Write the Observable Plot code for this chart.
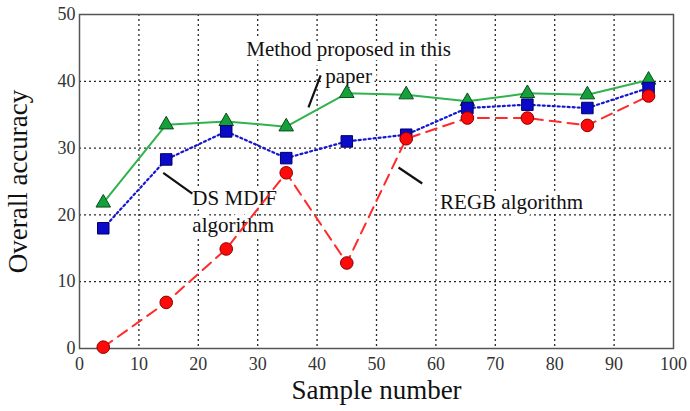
<!DOCTYPE html>
<html>
<head>
<meta charset="utf-8">
<script src="https://cdn.jsdelivr.net/npm/d3@7"></script>
<script src="https://cdn.jsdelivr.net/npm/@observablehq/plot@0.6"></script>
</head>
<body style="margin:0;background:#fff">
<div id="chart"></div>
<script>
// Sample numbers (x) for each point
const samples = [4, 14.6, 24.7, 34.8, 45, 55, 65.3, 75.4, 85.5, 95.8];
// Series values (overall accuracy)
const proposed = [21.8, 33.5, 34.0, 33.2, 38.2, 38.0, 37.0, 38.2, 38.0, 40.2];
const dsmdif   = [18.0, 28.3, 32.5, 28.5, 31.0, 32.0, 36.0, 36.5, 36.0, 39.0];
const regb     = [0.2, 6.9, 14.9, 26.3, 12.8, 31.4, 34.5, 34.5, 33.4, 37.8];
// Tick values
const xTicks = [0, 10, 20, 30, 40, 50, 60, 70, 80, 90, 100];
const yTicks = [0, 10, 20, 30, 40, 50];
// Annotations (data coordinates)
const centerLabels = [
  {text: "Method proposed in this\npaper", x: 45.3, y: 43.1}
];
const leftLabels = [
  {text: "DS MDIF\nalgorithm", x: 19.0, y: 20.8},
  {text: "REGB algorithm", x: 60.7, y: 22.2}
];
const pointers = [
  {x1: 38.55, y1: 36.1, x2: 40.6, y2: 40.9},
  {x1: 14.1, y1: 26.3, x2: 19.0, y2: 23.2},
  {x1: 53.7, y1: 27.1, x2: 57.7, y2: 24.7}
];

const mk = (vals) => samples.map((s, i) => ({x: s, y: vals[i]}));
const gP = mk(proposed), gD = mk(dsmdif), gR = mk(regb);

const serif = "Liberation Serif";
const textOpts = {x: "x", y: "y", text: "text", lineHeight: 1.3, fontSize: 21, fontFamily: serif, fill: "#111", stroke: "white", strokeWidth: 9};

const chart = Plot.plot({
  width: 690,
  height: 411,
  marginLeft: 79,
  marginRight: 17,
  marginTop: 14,
  marginBottom: 63,
  x: {domain: [0, 100]},
  y: {domain: [0, 50]},
  marks: [
    Plot.ruleX(xTicks.filter(d => d > 0 && d < 100), {stroke: "#111", strokeWidth: 1.3, strokeDasharray: "2,3", strokeOpacity: 0.9}),
    Plot.ruleY(yTicks.filter(d => d > 0 && d < 50), {stroke: "#111", strokeWidth: 1.3, strokeDasharray: "2,3", strokeOpacity: 0.9}),
    Plot.frame({stroke: "#555", strokeWidth: 1.5}),
    Plot.axisX({ticks: xTicks, tickSize: 0, tickPadding: 9, fontSize: 18, fontFamily: serif, fill: "#333", label: null}),
    Plot.axisX({ticks: [], label: "Sample number", labelAnchor: "center", labelOffset: 50, labelArrow: "none", fontSize: 27, fontFamily: serif, fill: "#111"}),
    Plot.axisY({ticks: yTicks, tickSize: 0, tickPadding: 4, fontSize: 18, fontFamily: serif, fill: "#333", label: null}),
    Plot.axisY({ticks: [], label: "Overall accuracy", labelAnchor: "center", labelOffset: 72, labelArrow: "none", fontSize: 27, fontFamily: serif, fill: "#111"}),
    Plot.text(centerLabels, {...textOpts, textAnchor: "middle"}),
    Plot.text(leftLabels, {...textOpts, textAnchor: "start"}),
    Plot.link(pointers, {x1: "x1", y1: "y1", x2: "x2", y2: "y2", stroke: "#111", strokeWidth: 2.2}),
    Plot.line(gP, {x: "x", y: "y", stroke: "#2fb34e", strokeWidth: 2}),
    Plot.dot(gP, {x: "x", y: "y", symbol: "triangle", r: 5.4, fill: "#14a03a", stroke: "#0b4d1c", strokeWidth: 1}),
    Plot.line(gD, {x: "x", y: "y", stroke: "#1515d6", strokeWidth: 2.2, strokeDasharray: "2,3"}),
    Plot.dot(gD, {x: "x", y: "y", symbol: "square", r: 6.5, fill: "#0a0ac8", stroke: "#00006a", strokeWidth: 1}),
    Plot.line(gR, {x: "x", y: "y", stroke: "#ff2a2a", strokeWidth: 2, strokeDasharray: "11,7"}),
    Plot.dot(gR, {x: "x", y: "y", symbol: "circle", r: 6.3, fill: "#ff0a0a", stroke: "#8a0000", strokeWidth: 1})
  ]
});
document.getElementById("chart").appendChild(chart);
</script>
</body>
</html>
